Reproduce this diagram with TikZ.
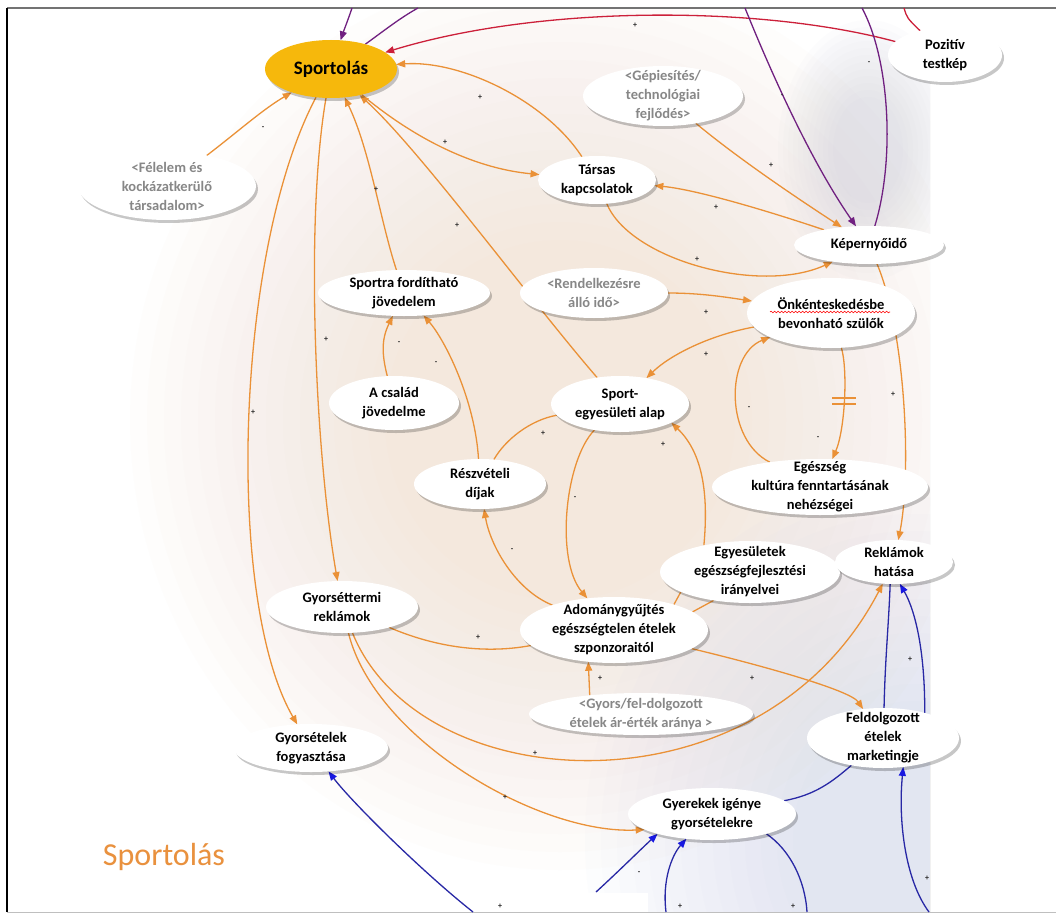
\documentclass[tikz,border=0pt]{standalone}
\usepackage{fontspec}
\setmainfont{Carlito}
\usetikzlibrary{arrows.meta,shapes.geometric,shadows,decorations.pathmorphing}

\definecolor{ocol}{RGB}{234,145,55}
\definecolor{purp}{RGB}{112,32,128}
\definecolor{redc}{RGB}{204,32,58}
\definecolor{blinec}{RGB}{40,40,165}
\definecolor{barrowc}{RGB}{25,25,225}
\definecolor{gold}{RGB}{246,184,12}
\definecolor{greyt}{RGB}{135,135,135}
\definecolor{peachd}{RGB}{244,200,165}
\definecolor{haze}{RGB}{190,190,208}
\definecolor{bluehaze}{RGB}{180,198,232}
\definecolor{titlec}{RGB}{233,145,62}

\pgfdeclarelayer{bg}
\pgfdeclarelayer{edges}
\pgfsetlayers{bg,edges,main}

\tikzset{
  bub/.style={ellipse, fill=white, inner sep=-40pt, outer sep=0pt, align=center,
    font=\bfseries\fontsize{14.5}{19}\selectfont,
    drop shadow={shadow xshift=2pt, shadow yshift=-3pt, fill=black, opacity=0.22}},
  aux/.style={bub, text=greyt},
  sz/.style 2 args={minimum width=#1pt, minimum height=#2pt},
  oline/.style={draw=ocol, line width=1.3pt},
  oarr/.style={oline, -{Triangle[length=9pt,width=7pt]}},
  pl/.style={draw=purp, line width=1.3pt},
  parr/.style={pl, -{Triangle[length=9pt,width=7pt]}},
  rl/.style={draw=redc, line width=1.3pt},
  rarr/.style={rl, -{Triangle[length=9pt,width=7pt]}},
  bl/.style={draw=blinec, line width=1.3pt},
  barrow/.style={bl, -{Triangle[length=9pt,width=7pt,color=barrowc]}},
  pol/.style={font=\bfseries\fontsize{8}{8}\selectfont, inner sep=0pt, text=black!85}
}

\begin{document}
\begin{tikzpicture}[x=1pt,y=-1pt]
\useasboundingbox (0,0) rectangle (1056,915);

% ---------- background: soft haze built from stacked translucent ellipses ----------
\begin{pgfonlayer}{bg}
  \fill[white] (0,0) rectangle (1056,915);
  \begin{scope}
    \clip (7,8) rectangle (930,912);
    \foreach \k in {0,...,15} {
      \fill[peachd, fill opacity=0.022] (560,420) ellipse [x radius={430-17*\k}, y radius={450-18*\k}];
    }
    \foreach \k in {0,...,13} {
      \fill[bluehaze, fill opacity=0.028] (915,840) ellipse [x radius={330-16*\k}, y radius={360-17*\k}];
    }
    \foreach \k in {0,...,11} {
      \fill[haze, fill opacity=0.035] (868,150) ellipse [x radius={90-5*\k}, y radius={130-7*\k}];
    }
  \end{scope}
  \fill[white] (512,893) rectangle (648,915);
  \draw[black!55, line width=1.5pt] (7,8) -- (1056,8);
  \draw[black, line width=1.5pt] (7,8) -- (7,912);
  \draw[black!25, line width=1pt] (7,912) -- (1056,912);
\end{pgfonlayer}

% ---------- variables ----------
\node[bub, sz={132}{58}, fill=gold, font=\bfseries\fontsize{19}{22}\selectfont] (sport) at (331,69) {Sportolás};
\node[aux, sz={178}{68}] (felelem) at (167,186) {<Félelem és\\kockázatkerülő\\társadalom>};
\node[aux, sz={160}{60}] (gepies) at (663,96) {<Gépiesítés/\\technológiai\\fejlődés>};
\node[bub, sz={114}{54}] (pozitiv) at (945,55) {Pozitív\\testkép};
\node[bub, sz={118}{48}] (tarsas) at (597,180) {Társas\\kapcsolatok};
\node[bub, sz={150}{38}] (kepernyo) at (869,245) {Képernyőidő};
\node[bub, sz={172}{46}] (sportra) at (404,293) {Sportra fordítható\\jövedelem};
\node[aux, sz={148}{50}] (rendelk) at (594,293) {<Rendelkezésre\\álló idő>};
\node[bub, sz={168}{70}] (onk) at (831,313) {Önkénteskedésbe\\bevonható szülők};
\node[bub, sz={130}{54}] (csalad) at (394,403) {A család\\jövedelme};
\node[bub, sz={138}{56}] (sportegy) at (620,404) {Sport-\\egyesületi alap};
\node[bub, sz={132}{50}] (reszv) at (480,484) {Részvételi\\díjak};
\node[bub, sz={216}{56}] (egeszseg) at (820,487) {Egészség\\kultúra fenntartásának\\nehézségei};
\node[bub, sz={180}{62}] (egyes) at (750,572) {Egyesületek\\egészségfejlesztési\\irányelvei};
\node[bub, sz={118}{44}] (reklhat) at (894,562) {Reklámok\\hatása};
\node[bub, sz={152}{52}] (gyettr) at (342,607) {Gyorséttermi\\reklámok};
\node[bub, sz={188}{66}] (adom) at (614,630) {Adománygyűjtés\\egészségtelen ételek\\szponzoraitól};
\node[aux, sz={224}{42}] (gyorsfel) at (641,714) {<Gyors/fel-dolgozott\\ételek ár-érték aránya >};
\node[bub, sz={152}{60}] (feldolg) at (883,738) {Feldolgozott\\ételek\\marketingje};
\node[bub, sz={154}{48}] (gyfogy) at (311,748) {Gyorsételek\\fogyasztása};
\node[bub, sz={168}{52}] (gyerek) at (712,814) {Gyerekek igénye\\gyorsételekre};

% spelling underline
\draw[red, line width=0.6pt, decorate, decoration={snake, amplitude=0.8pt, segment length=3.5pt}]
  ([shift={(-61,-1)}]onk.center) -- ([shift={(59,-1)}]onk.center);

\node[font=\fontsize{32}{36}\selectfont, text=titlec, inner sep=0pt] (title) at (164,857) {Sportolás};

% ---------- connectors ----------
\begin{pgfonlayer}{edges}
  \coordinate (t1) at (352,8);
  \coordinate (t2) at (418,8);
  \coordinate (t3) at (904,8);
  \coordinate (t4) at (745,8);
  \coordinate (t5) at (862,8);
  \coordinate (b0) at (473,912);
  \coordinate (b1) at (596,892);
  \coordinate (b2) at (666,912);
  \coordinate (b3) at (807,912);
  \coordinate (b4) at (929,912);

  % around Sportolás
  \draw[oarr] (sport) .. controls (235,250) and (225,600) .. (gyfogy);
  \draw[oarr] (sport) .. controls (305,220) and (315,450) .. (gyettr);
  \draw[oarr] (sportra) .. controls (380,220) and (370,150) .. (sport);
  \draw[oarr] (sportegy) .. controls (530,300) and (420,150) .. (sport);
  \draw[oarr] (sport) .. controls (410,135) and (470,168) .. (tarsas);
  \draw[oarr] (tarsas) .. controls (545,100) and (460,60) .. (sport);
  \draw[oarr] (felelem) .. controls (240,130) and (262,110) .. (sport);
  \draw[parr] (t1) .. controls (348,20) and (344,30) .. (sport);
  \draw[pl] (sport) .. controls (385,30) and (400,18) .. (t2);
  \draw[rarr] (pozitiv) .. controls (760,5) and (540,5) .. (sport);
  \draw[rl] (t3) .. controls (907,18) .. (pozitiv);

  % screen time
  \draw[parr] (t4) .. controls (770,70) and (810,160) .. (kepernyo);
  \draw[pl] (kepernyo) .. controls (895,160) and (890,60) .. (t5);
  \draw[oarr] (gepies) .. controls (740,160) and (800,200) .. (kepernyo);
  \draw[oarr] (kepernyo) .. controls (780,215) and (700,190) .. (tarsas);
  \draw[oarr] (tarsas) .. controls (630,260) and (760,295) .. (kepernyo);
  \draw[oarr] (kepernyo) .. controls (905,330) and (912,470) .. (reklhat);

  % volunteering parents
  \draw[oarr] (rendelk) .. controls (700,293) and (725,297) .. (onk);
  \draw[oarr] (onk) .. controls (710,335) and (670,355) .. (sportegy);
  \draw[oarr] (egeszseg) .. controls (725,440) and (725,355) .. (onk);
  \draw[oarr] (onk) .. controls (848,370) and (845,430) .. (egeszseg) coordinate[pos=0.5] (dly);
  \draw[oline] ([shift={(-12,-3)}]dly) -- ([shift={(12,-3)}]dly);
  \draw[oline] ([shift={(-12,3)}]dly) -- ([shift={(12,3)}]dly);

  % income and club funds
  \draw[oarr] (csalad) .. controls (382,355) and (381,340) .. (sportra);
  \draw[oarr] (reszv) .. controls (475,400) and (445,340) .. (sportra);
  \draw[oline] (sportegy) .. controls (530,420) and (505,440) .. (reszv);
  \draw[oarr] (sportegy) .. controls (565,460) and (555,560) .. (adom);
  \draw[oarr] (egyes.150) .. controls (708,500) and (705,455) .. (sportegy.-20);
  \draw[oarr] (adom) .. controls (515,590) and (490,545) .. (reszv);
  \draw[oline] (gyettr) .. controls (430,645) and (480,655) .. (adom);
  \draw[oline] (adom.23) -- (egyes.196);
  \draw[oline] (adom.13) -- (egyes.218);
  \draw[oarr] (adom) .. controls (760,665) and (850,690) .. (feldolg);
  \draw[oarr] (gyorsfel.160) -- (adom.-129);

  % fast food advertising
  \draw[oarr] (gyettr) .. controls (420,800) and (760,820) .. (reklhat);
  \draw[oarr] (gyettr) .. controls (375,740) and (540,835) .. (gyerek.193);

  % blue loop
  \draw[barrow] (b0) .. controls (420,870) and (350,800) .. (gyfogy);
  \draw[barrow] (b1) .. controls (620,870) and (640,850) .. (gyerek.200);
  \draw[barrow] (b2) .. controls (662,880) and (672,855) .. (gyerek.224);
  \draw[bl] (gyerek.-20) .. controls (790,850) and (805,880) .. (b3);
  \draw[barrow] (b4) .. controls (905,880) and (898,820) .. (feldolg.-55);
  \draw[bl] (gyerek) .. controls (815,795) and (832,782) .. (feldolg);
  \draw[bl] (feldolg.88) .. controls (885,660) and (889,620) .. (reklhat.-100);
  \draw[barrow] (feldolg.31) .. controls (925,650) and (915,610) .. (reklhat.-75);
\end{pgfonlayer}

% ---------- polarities ----------
\node[pol] (s1) at (635,25) {+};
\node[pol] (s2) at (869,63) {-};
\node[pol] (s3) at (782,96) {-};
\node[pol] (s4) at (263,128) {-};
\node[pol] (s5) at (480,97) {+};
\node[pol] (s6) at (445,142) {+};
\node[pol] (s7) at (376,189) {+};
\node[pol] (s8) at (457,225) {+};
\node[pol] (s9) at (771,165) {+};
\node[pol] (s10) at (716,207) {+};
\node[pol] (s11) at (697,259) {+};
\node[pol] (s12) at (706,312) {+};
\node[pol] (s13) at (706,354) {+};
\node[pol] (s14) at (749,408) {-};
\node[pol] (s15) at (818,438) {-};
\node[pol] (s16) at (893,394) {+};
\node[pol] (s17) at (399,343) {-};
\node[pol] (s18) at (436,363) {-};
\node[pol] (s19) at (326,339) {+};
\node[pol] (s20) at (253,412) {+};
\node[pol] (s21) at (543,433) {+};
\node[pol] (s22) at (663,444) {+};
\node[pol] (s23) at (575,498) {-};
\node[pol] (s24) at (512,550) {-};
\node[pol] (s25) at (478,637) {+};
\node[pol] (s26) at (600,678) {+};
\node[pol] (s27) at (752,678) {+};
\node[pol] (s28) at (535,753) {+};
\node[pol] (s29) at (505,797) {+};
\node[pol] (s30) at (910,659) {+};
\node[pol] (s31) at (927,878) {+};
\node[pol] (s32) at (639,873) {-};
\node[pol] (s33) at (680,906) {+};
\node[pol] (s34) at (793,906) {+};
\node[pol] (s35) at (500,906) {+};
\end{tikzpicture}
\end{document}
